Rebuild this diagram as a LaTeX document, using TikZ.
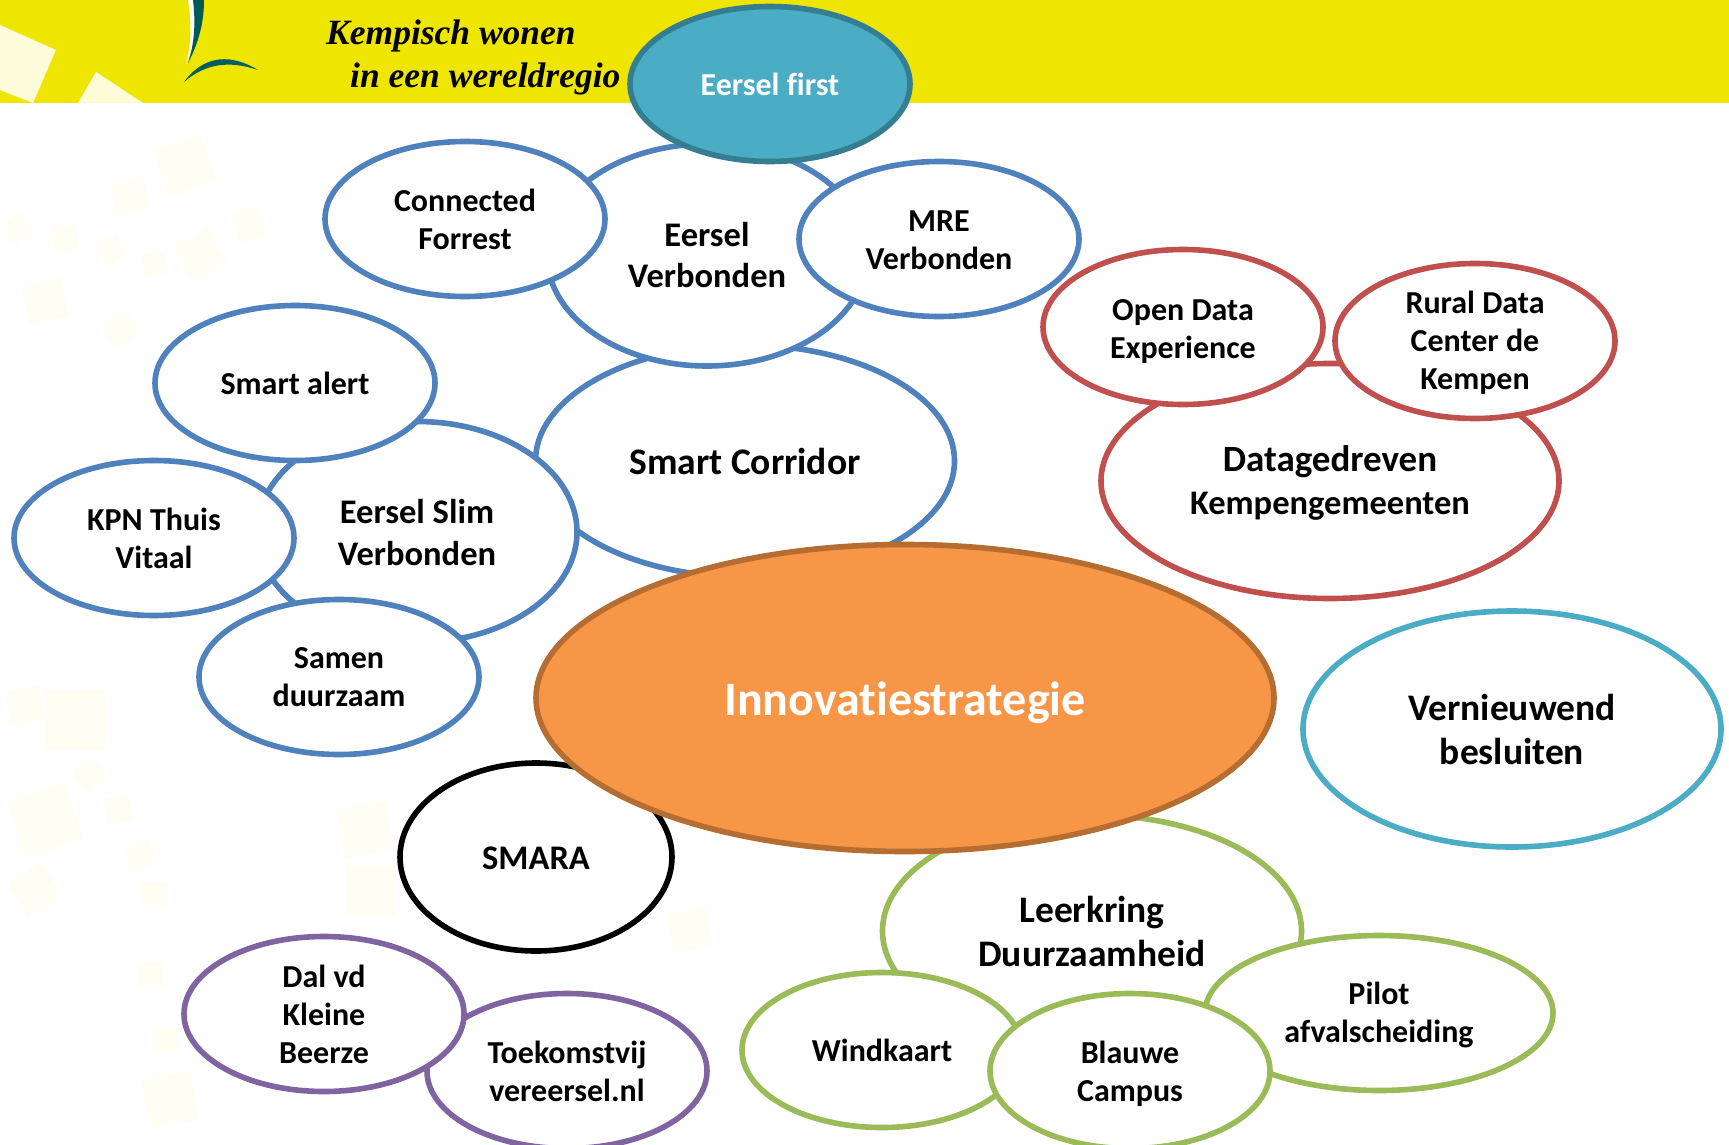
\documentclass[tikz,border=0pt]{standalone}
\usepackage{fontspec}
\setmainfont{Carlito}[Ligatures={NoCommon}]
\newfontfamily\slogan{Liberation Serif}
\usetikzlibrary{shapes.geometric}
\definecolor{banner}{HTML}{EEE600}
\definecolor{pale}{HTML}{FEFEF5}
\definecolor{cream}{HTML}{FDFBD8}
\definecolor{cblue}{HTML}{4F81BD}
\definecolor{cred}{HTML}{C0504D}
\definecolor{cgreen}{HTML}{9BBB59}
\definecolor{cpurple}{HTML}{8064A2}
\definecolor{cteal}{HTML}{4BACC6}
\definecolor{cteald}{HTML}{357D91}
\definecolor{corange}{HTML}{F79646}
\definecolor{corangd}{HTML}{B66D31}
\newcommand\lowered[2]{\raisebox{-#1}[\height][\depth]{\begin{tabular}{@{}c@{}}#2\end{tabular}}}
\tikzset{
  bub/.style={ellipse,inner sep=0pt,outer sep=0pt,line width=5.6pt,fill=white,align=center,font=\bfseries\fontsize{32}{38}\selectfont,text=black},
  small/.style={bub,minimum width=280pt,minimum height=155pt},
  mid/.style={bub,font=\bfseries\fontsize{34.5}{41}\selectfont},
  big/.style={bub,font=\bfseries\fontsize{37.5}{44}\selectfont},
  bluebub/.style={draw=cblue},
  redbub/.style={draw=cred},
  greenbub/.style={draw=cgreen},
  purplebub/.style={draw=cpurple},
  slogantext/.style={font=\slogan\itshape\bfseries\fontsize{35.5}{35.5}\selectfont,anchor=west,inner sep=0pt}
}
\begin{document}
\begin{tikzpicture}[x=1pt,y=-1pt]
\useasboundingbox (0,0) rectangle (1729,1145);
\begin{scope}
\clip (0,0) rectangle (1729,1145);
\fill[white] (0,0) rectangle (1729,1145);
% faint background pattern
\foreach \px/\py/\ps/\pr in {185/165/50/20,130/195/34/10,18/228/24/30,65/238/24/10,112/250/24/30,155/265/24/10,200/255/40/30,250/225/30/20,45/300/40/10,120/330/30/30,25/705/34/10,75/720/60/0,90/775/26/30,118/810/26/10,45/820/60/20,140/855/26/20,155/895/26/0,365/830/50/10,35/890/40/30,150/975/26/0,165/1040/26/0,170/1100/50/10,370/890/50/0,690/930/40/10}
  \fill[pale,rotate around={\pr:(\px,\py)}] (\px-\ps/2,\py-\ps/2) rectangle (\px+\ps/2,\py+\ps/2);
% banner
\fill[banner] (0,0) rectangle (1729,103);
\fill[cream] (0,25) -- (56,50) -- (33,103) -- (0,90) -- cycle;
\fill[cream] (96,72) -- (143,103) -- (78,103) -- cycle;
% logo
\fill[white] (188,0) .. controls (192,25) and (191,45) .. (186,65) .. controls (195,45) and (197,25) .. (196,0) -- cycle;
\fill[black!30!teal] (193,0) .. controls (196,25) and (194,45) .. (188,63) .. controls (199,42) and (204,22) .. (204,0) -- cycle;
\fill[black!25!teal] (184,82) .. controls (200,60) and (225,50) .. (258,70) .. controls (228,60) and (205,64) .. (184,82) -- cycle;
\node[slogantext] (slogana) at (326,36) {Kempisch wonen};
\node[slogantext] (sloganb) at (350,79) {in een wereldregio};
% bubbles, back to front
\node[big,bluebub,minimum width=419pt,minimum height=232pt] (corridor) at (745,461) {Smart Corridor};
\node[mid,bluebub,minimum width=320pt,minimum height=222pt] (everbonden) at (707,255) {Eersel\\Verbonden};
\node[small,bluebub] (connected) at (465,219) {Connected\\Forrest};
\node[small,bluebub] (mre) at (939,239) {\lowered{4pt}{MRE\\Verbonden}};
\node[bub,draw=cteald,fill=cteal,text=white,minimum width=280pt,minimum height=155pt] (first) at (770,84) {Eersel first};
\node[mid,bluebub,minimum width=320pt,minimum height=221pt] (slim) at (417,532) {\lowered{4.5pt}{Eersel Slim\\[1pt]Verbonden}};
\node[small,bluebub] (alert) at (295,383) {Smart alert};
\node[small,bluebub] (kpn) at (154,538) {KPN Thuis\\Vitaal};
\node[small,bluebub] (samen) at (339,677) {Samen\\duurzaam};
\node[bub,redbub,minimum width=458pt,minimum height=235pt] (data) at (1330,481) {\lowered{4.5pt}{{\fontsize{37}{44}\selectfont Datagedreven}\\[5pt]{\fontsize{34.5}{40}\selectfont Kempengemeenten}}};
\node[small,redbub] (open) at (1183,327) {\lowered{5pt}{Open Data\\Experience}};
\node[small,redbub,inner sep=-15pt] (rural) at (1475,341) {\lowered{3.3pt}{Rural Data\\Center de\\Kempen}};
\node[big,draw=cteal,minimum width=418pt,minimum height=236pt] (vern) at (1512,729) {Vernieuwend\\besluiten};
\node[mid,draw=black,minimum width=272pt,minimum height=188pt] (smara) at (536,857) {\lowered{4pt}{SMARA}};
\node[big,greenbub,minimum width=419pt,minimum height=232pt] (leer) at (1092,931) {Leerkring\\Duurzaamheid};
\node[bub,draw=corangd,fill=corange,text=white,font=\bfseries\fontsize{48}{54}\selectfont,minimum width=738pt,minimum height=307pt] (inno) at (905,698) {\lowered{6.5pt}{Innovatiestrategie}};
\node[small,purplebub] (toekomst) at (567,1071) {Toekomstvij\\vereersel.nl};
\node[small,purplebub] (dal) at (324,1014) {Dal vd\\Kleine\\Beerze};
\node[small,greenbub,minimum width=348pt] (pilot) at (1379,1013) {\lowered{3.3pt}{Pilot\\afvalscheiding}};
\node[small,greenbub] (wind) at (882,1050) {Windkaart};
\node[small,greenbub] (blauw) at (1130,1071) {\lowered{4pt}{Blauwe\\Campus}};
\end{scope}
\end{tikzpicture}
\end{document}
